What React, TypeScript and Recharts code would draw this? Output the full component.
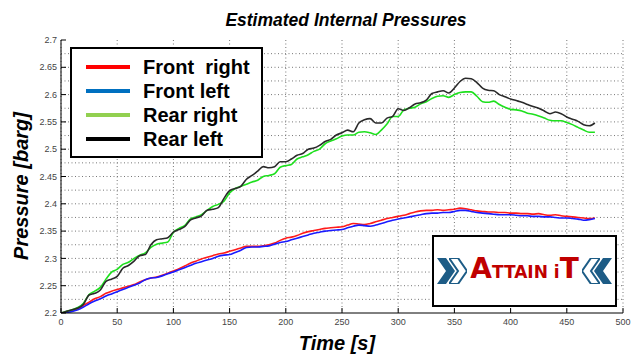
import React from 'react';
import { LineChart, Line, XAxis, YAxis, CartesianGrid, ReferenceLine, Legend } from 'recharts';

const times = [0,5,10,15,20,25,30,35,40,45,50,55,60,65,70,75,80,85,90,95,100,105,110,115,120,125,130,135,140,145,150,155,160,165,170,175,180,185,190,195,200,205,210,215,220,225,230,235,240,245,250,255,260,265,270,275,280,285,290,295,300,305,310,315,320,325,330,335,340,345,350,355,360,365,370,375,380,385,390,395,400,405,410,415,420,425,430,435,440,445,450,455,460,465,470,475];

const frontRight = [2.200,2.202,2.205,2.208,2.214,2.220,2.226,2.230,2.236,2.240,2.243,2.246,2.249,2.252,2.257,2.261,2.264,2.266,2.269,2.273,2.277,2.281,2.286,2.291,2.295,2.299,2.302,2.305,2.308,2.310,2.313,2.316,2.319,2.322,2.322,2.322,2.323,2.325,2.328,2.333,2.337,2.339,2.342,2.346,2.349,2.351,2.353,2.355,2.356,2.357,2.358,2.361,2.364,2.363,2.362,2.364,2.367,2.370,2.373,2.375,2.377,2.379,2.382,2.385,2.387,2.388,2.388,2.389,2.388,2.389,2.390,2.392,2.391,2.389,2.387,2.386,2.385,2.385,2.384,2.384,2.383,2.383,2.382,2.382,2.381,2.382,2.380,2.379,2.380,2.378,2.377,2.376,2.375,2.374,2.373,2.374];

const frontLeft = [2.200,2.201,2.203,2.206,2.211,2.217,2.222,2.226,2.231,2.235,2.239,2.243,2.247,2.251,2.255,2.261,2.264,2.265,2.268,2.272,2.275,2.279,2.283,2.287,2.291,2.294,2.297,2.300,2.304,2.306,2.307,2.311,2.315,2.320,2.321,2.321,2.322,2.323,2.326,2.329,2.331,2.334,2.337,2.340,2.343,2.346,2.348,2.350,2.351,2.352,2.353,2.356,2.359,2.361,2.360,2.359,2.361,2.364,2.367,2.370,2.372,2.374,2.376,2.378,2.380,2.382,2.383,2.383,2.384,2.384,2.386,2.388,2.388,2.386,2.384,2.383,2.382,2.381,2.380,2.380,2.380,2.379,2.378,2.378,2.377,2.377,2.376,2.376,2.375,2.374,2.374,2.373,2.372,2.370,2.371,2.373];

const rearRight = [2.200,2.203,2.206,2.210,2.218,2.234,2.240,2.247,2.262,2.275,2.280,2.289,2.293,2.300,2.306,2.310,2.320,2.326,2.328,2.330,2.348,2.355,2.360,2.372,2.376,2.380,2.388,2.395,2.399,2.405,2.420,2.428,2.432,2.436,2.440,2.443,2.450,2.452,2.455,2.467,2.470,2.472,2.482,2.486,2.490,2.496,2.500,2.510,2.515,2.519,2.524,2.526,2.526,2.531,2.532,2.530,2.527,2.535,2.546,2.560,2.560,2.572,2.575,2.577,2.583,2.587,2.593,2.597,2.598,2.595,2.600,2.604,2.605,2.605,2.597,2.587,2.586,2.588,2.582,2.577,2.573,2.572,2.570,2.566,2.564,2.561,2.557,2.553,2.552,2.552,2.549,2.545,2.540,2.535,2.531,2.531];

const rearLeft = [2.200,2.203,2.206,2.209,2.216,2.233,2.236,2.242,2.258,2.262,2.267,2.282,2.287,2.295,2.305,2.307,2.325,2.334,2.336,2.338,2.348,2.353,2.358,2.370,2.374,2.378,2.388,2.390,2.393,2.410,2.424,2.428,2.432,2.445,2.452,2.460,2.468,2.466,2.468,2.477,2.477,2.482,2.489,2.492,2.500,2.502,2.507,2.514,2.518,2.526,2.530,2.535,2.532,2.548,2.554,2.556,2.548,2.548,2.557,2.560,2.574,2.571,2.576,2.583,2.585,2.590,2.602,2.605,2.607,2.603,2.612,2.624,2.630,2.629,2.622,2.612,2.608,2.607,2.600,2.596,2.592,2.589,2.586,2.582,2.578,2.575,2.570,2.565,2.568,2.565,2.559,2.555,2.551,2.545,2.543,2.548];

const xTicks = [0,50,100,150,200,250,300,350,400,450,500];
const yTicks = [2.2,2.25,2.3,2.35,2.4,2.45,2.5,2.55,2.6,2.65,2.7];
const yMinorGrid = [2.225,2.25,2.275,2.3,2.325,2.35,2.375,2.4,2.425,2.45,2.475,2.5,2.525,2.55,2.575,2.6,2.625,2.65,2.675];

const seriesNames = ['Front  right', 'Front left', 'Rear right', 'Rear left'];
const seriesKeys = ['fr', 'fl', 'rr', 'rl'];
const lineColors = ['#ff1a1a', '#1a1aff', '#1ee01e', '#2a2a2a'];
const legendColors = ['#ff0000', '#0070c0', '#92d050', '#000000'];

const data = times.map((t, i) => ({
  t,
  fr: frontRight[i],
  fl: frontLeft[i],
  rr: rearRight[i],
  rl: rearLeft[i],
}));

const FONT = 'Arial, "Liberation Sans", sans-serif';

const renderLegend = () => (
  <div style={{ boxSizing: 'border-box', width: 193, height: 111, border: '2px solid #000', background: '#fff', paddingTop: 6 }}>
    {seriesNames.map((n, i) => (
      <div key={n} style={{ display: 'flex', alignItems: 'center', height: 24 }}>
        <div style={{ width: 44, height: 4, background: legendColors[i], marginLeft: 14, marginRight: 13 }} />
        <span style={{ fontFamily: FONT, fontWeight: 'bold', fontSize: 20, color: '#000', whiteSpace: 'pre', lineHeight: '24px' }}>{n}</span>
      </div>
    ))}
  </div>
);

const Chevron = ({ dir, solid, color }: { dir: 'r' | 'l'; solid: boolean; color: string }) => {
  const pts = dir === 'r' ? '0,0 9,0 18,13 9,26 0,26 9,13' : '18,0 9,0 0,13 9,26 18,26 9,13';
  return (
    <svg width={18} height={26} style={{ display: 'block' }}>
      <polygon points={pts} fill={solid ? color : '#fff'} stroke={color} strokeWidth={solid ? 0 : 2} />
    </svg>
  );
};

export default function App() {
  return (
    <div style={{ position: 'absolute', left: 0, top: 0, width: 631, height: 356, background: '#fff' }}>
      <LineChart width={631} height={356} data={data} margin={{ top: 40, right: 8, bottom: 0, left: 0 }}>
        <CartesianGrid horizontal={false} stroke="#777" strokeDasharray="1 2.5" />
        {yMinorGrid.map((v) => (
          <ReferenceLine key={v} y={v} stroke="#777" strokeDasharray="1 2.5" ifOverflow="hidden" />
        ))}
        <XAxis
          dataKey="t"
          type="number"
          domain={[0, 500]}
          ticks={xTicks}
          height={43}
          tickSize={-5}
          tickMargin={11}
          axisLine={{ stroke: '#000' }}
          tickLine={{ stroke: '#000' }}
          tick={{ fontSize: 9, fill: '#444', fontFamily: FONT }}
          interval={0}
        />
        <XAxis
          xAxisId="top"
          orientation="top"
          type="number"
          domain={[0, 500]}
          ticks={xTicks}
          height={0}
          tickSize={-5}
          tick={false}
          axisLine={{ stroke: '#000' }}
          tickLine={{ stroke: '#000' }}
        />
        <YAxis
          type="number"
          domain={[2.2, 2.7]}
          ticks={yTicks}
          width={61}
          tickSize={-5}
          tickMargin={9}
          axisLine={{ stroke: '#000' }}
          tickLine={{ stroke: '#000' }}
          tick={{ fontSize: 9, fill: '#444', fontFamily: FONT }}
          interval={0}
          allowDataOverflow
        />
        <YAxis
          yAxisId="right"
          orientation="right"
          type="number"
          domain={[2.2, 2.7]}
          ticks={yTicks}
          width={0}
          tickSize={-5}
          tick={false}
          axisLine={{ stroke: '#000' }}
          tickLine={{ stroke: '#000' }}
        />
        <Legend layout="horizontal" verticalAlign="middle" align="center" content={renderLegend}
          wrapperStyle={{ position: 'absolute', left: 70, top: 47, width: 193, height: 111 }} />
        {seriesKeys.map((k, i) => (
          <Line key={k} dataKey={k} name={seriesNames[i]} type="monotone" stroke={lineColors[i]} strokeWidth={1.6}
            dot={false} isAnimationActive={false} />
        ))}
      </LineChart>
      <svg width={631} height={356} style={{ position: 'absolute', left: 0, top: 0, pointerEvents: 'none' }}>
        <text x={346} y={26} textAnchor="middle" fontFamily={FONT} fontWeight="bold" fontStyle="italic" fontSize={17.5} fill="#000">Estimated Internal Pressures</text>
        <text x={337} y={350} textAnchor="middle" fontFamily={FONT} fontWeight="bold" fontStyle="italic" fontSize={20} fill="#000">Time [s]</text>
        <text x={0} y={0} transform="translate(28,186) rotate(-90)" textAnchor="middle" fontFamily={FONT} fontWeight="bold" fontStyle="italic" fontSize={20} fill="#000">Pressure [barg]</text>
      </svg>
      <div style={{ position: 'absolute', left: 432, top: 235, width: 185, height: 72, boxSizing: 'border-box', border: '2px solid #000', background: '#fff', display: 'flex', alignItems: 'center', justifyContent: 'space-between', padding: '0 3px' }}>
        <div style={{ display: 'flex' }}>
          <Chevron dir="r" solid color="#1d5c86" />
          <div style={{ marginLeft: -6 }}><Chevron dir="r" solid={false} color="#1d5c86" /></div>
        </div>
        <div style={{ fontFamily: '"DejaVu Sans", sans-serif', fontWeight: 'bold', color: '#c00000', letterSpacing: 0, lineHeight: '28px', whiteSpace: 'pre' }}>
          <span style={{ fontSize: 28 }}>A</span><span style={{ fontSize: 17 }}>TTAIN </span><span style={{ fontSize: 17 }}>i</span><span style={{ fontSize: 28 }}>T</span>
        </div>
        <div style={{ display: 'flex' }}>
          <Chevron dir="l" solid={false} color="#1d5c86" />
          <div style={{ marginLeft: -6 }}><Chevron dir="l" solid color="#1d5c86" /></div>
        </div>
      </div>
    </div>
  );
}
